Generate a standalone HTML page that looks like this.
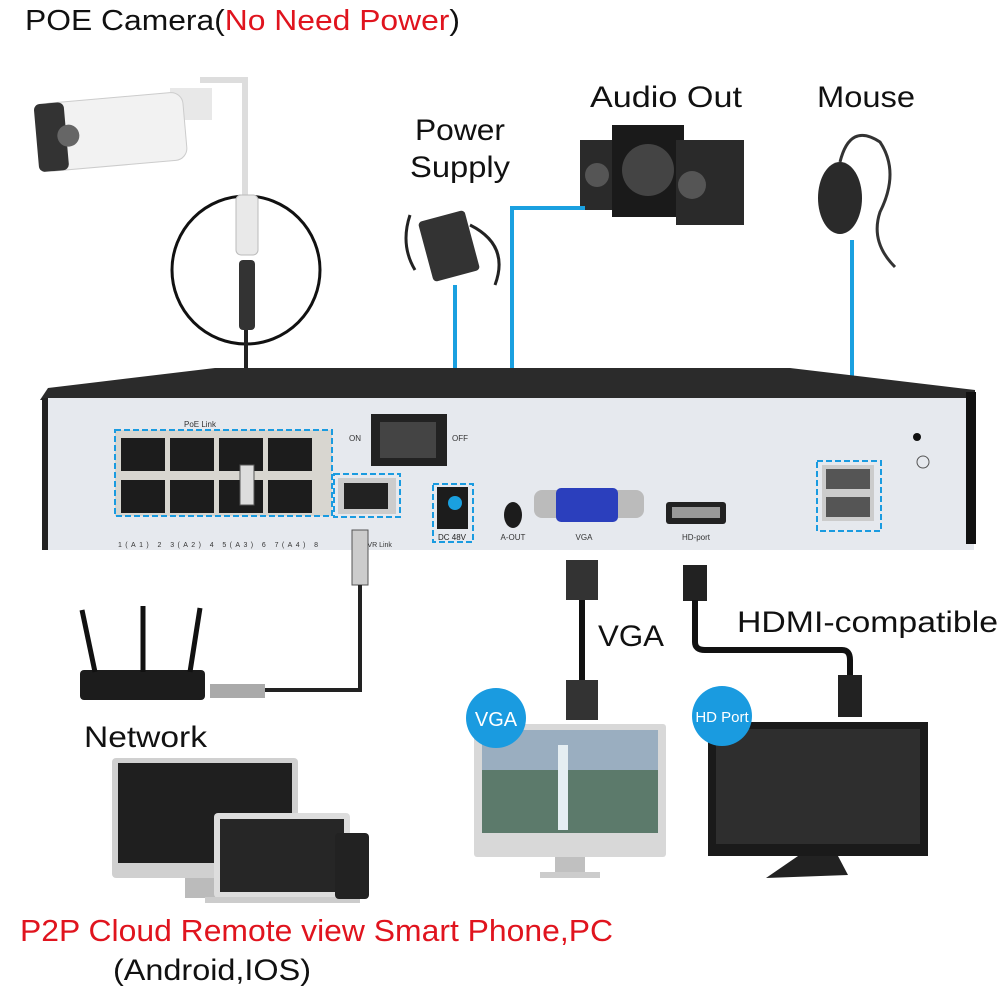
<!DOCTYPE html>
<html><head><meta charset="utf-8"><style>
body{margin:0;background:#fff;width:1000px;height:1000px;overflow:hidden}
svg{display:block}
text{font-family:"Liberation Sans",sans-serif}
</style></head><body>
<svg width="1000" height="1000" viewBox="0 0 1000 1000">
<!-- title -->
<text x="25" y="30" font-size="29" fill="#111" textLength="435" lengthAdjust="spacingAndGlyphs">POE Camera(<tspan fill="#e0141e">No Need Power</tspan>)</text>
<text x="415" y="140" font-size="30" fill="#111" textLength="90" lengthAdjust="spacingAndGlyphs">Power</text>
<text x="410" y="177" font-size="30" fill="#111" textLength="100" lengthAdjust="spacingAndGlyphs">Supply</text>
<text x="590" y="107" font-size="30" fill="#111" textLength="152" lengthAdjust="spacingAndGlyphs">Audio Out</text>
<text x="817" y="107" font-size="30" fill="#111" textLength="98" lengthAdjust="spacingAndGlyphs">Mouse</text>
<text x="598" y="646" font-size="30" fill="#111" textLength="66" lengthAdjust="spacingAndGlyphs">VGA</text>
<text x="737" y="632" font-size="30" fill="#111" textLength="261" lengthAdjust="spacingAndGlyphs">HDMI-compatible</text>
<text x="84" y="747" font-size="30" fill="#111" textLength="123" lengthAdjust="spacingAndGlyphs">Network</text>
<text x="20" y="941" font-size="31" fill="#e0141e" textLength="593" lengthAdjust="spacingAndGlyphs">P2P Cloud Remote view Smart Phone,PC</text>
<text x="113" y="980" font-size="30" fill="#111" textLength="198" lengthAdjust="spacingAndGlyphs">(Android,IOS)</text>

<!-- camera -->
<path d="M200 80 L245 80 L245 200" stroke="#ddd" stroke-width="6" fill="none"/>
<rect x="170" y="88" width="42" height="32" fill="#e8e8e8"/>
<g transform="rotate(-5 110 130)">
<rect x="40" y="98" width="145" height="68" rx="12" fill="#f2f2f2" stroke="#ccc"/>
<rect x="36" y="98" width="30" height="68" rx="6" fill="#333"/>
<circle cx="68" cy="132" r="11" fill="#666"/>
</g>
<circle cx="246" cy="270" r="74" fill="none" stroke="#111" stroke-width="3"/>
<rect x="236" y="195" width="22" height="60" rx="5" fill="#e9e9e9" stroke="#bbb"/>
<rect x="239" y="260" width="16" height="70" rx="4" fill="#333"/>
<line x1="246" y1="330" x2="246" y2="470" stroke="#222" stroke-width="4"/>

<!-- power supply -->
<rect x="425" y="215" width="48" height="62" rx="4" fill="#333" transform="rotate(-15 449 246)"/>
<path d="M470 225 q40 20 25 60 M410 215 q-10 30 5 55" stroke="#222" stroke-width="3" fill="none"/>
<line x1="455" y1="285" x2="455" y2="490" stroke="#1aa0e0" stroke-width="4"/>
<!-- speakers -->
<rect x="580" y="140" width="42" height="70" fill="#2a2a2a"/>
<rect x="612" y="125" width="72" height="92" fill="#1a1a1a"/>
<circle cx="648" cy="170" r="26" fill="#444"/>
<rect x="676" y="140" width="68" height="85" fill="#2a2a2a"/>
<circle cx="692" cy="185" r="14" fill="#555"/>
<circle cx="597" cy="175" r="12" fill="#555"/>
<path d="M585 208 L512 208 L512 505" stroke="#1aa0e0" stroke-width="4" fill="none"/>
<!-- mouse -->
<ellipse cx="840" cy="198" rx="22" ry="36" fill="#2a2a2a"/>
<path d="M840 162 q10 -40 40 -20 q20 30 0 70 q-10 30 15 55" stroke="#333" stroke-width="3" fill="none"/>
<line x1="852" y1="240" x2="852" y2="470" stroke="#1aa0e0" stroke-width="4"/>

<!-- NVR -->
<path d="M40 400 L48 388 L215 368 L790 368 L975 390 L975 400 Z" fill="#2b2b2b"/>
<rect x="42" y="398" width="932" height="152" fill="#e6e9ee"/>
<rect x="966" y="392" width="10" height="152" fill="#111"/>
<rect x="42" y="398" width="6" height="152" fill="#222"/>
<text x="200" y="427" font-size="8" fill="#333" text-anchor="middle">PoE Link</text>
<rect x="115" y="430" width="217" height="86" fill="#d8d6d0" stroke="#1a9be0" stroke-width="2" stroke-dasharray="6,3"/>
<g fill="#1c1c1c">
<rect x="121" y="438" width="44" height="33"/><rect x="170" y="438" width="44" height="33"/><rect x="219" y="438" width="44" height="33"/><rect x="268" y="438" width="44" height="33"/>
<rect x="121" y="480" width="44" height="33"/><rect x="170" y="480" width="44" height="33"/><rect x="219" y="480" width="44" height="33"/><rect x="268" y="480" width="44" height="33"/>
</g>
<rect x="240" y="465" width="14" height="40" fill="#ddd" stroke="#555"/>
<text x="118" y="547" font-size="7" fill="#333" textLength="200" lengthAdjust="spacing">1(A1)    2   3(A2)    4   5(A3)    6   7(A4)    8</text>
<rect x="334" y="474" width="66" height="43" fill="none" stroke="#1a9be0" stroke-width="2" stroke-dasharray="6,3"/>
<rect x="338" y="478" width="58" height="36" fill="#ccc"/><rect x="344" y="483" width="44" height="26" fill="#222"/>
<text x="372" y="547" font-size="7" fill="#333" text-anchor="middle">UPL    VR Link</text>
<rect x="371" y="414" width="76" height="52" fill="#222"/><rect x="380" y="422" width="56" height="36" fill="#444"/>
<text x="349" y="441" font-size="8" fill="#333">ON</text><text x="452" y="441" font-size="8" fill="#333">OFF</text>
<rect x="433" y="484" width="40" height="58" fill="none" stroke="#1a9be0" stroke-width="2" stroke-dasharray="6,3"/>
<rect x="437" y="487" width="31" height="42" fill="#1c1c1c"/><circle cx="455" cy="503" r="7" fill="#1aa0e0"/>
<text x="452" y="540" font-size="8" fill="#222" text-anchor="middle">DC 48V</text>
<ellipse cx="513" cy="515" rx="9" ry="13" fill="#1c1c1c"/>
<text x="513" y="540" font-size="8" fill="#333" text-anchor="middle">A-OUT</text>
<rect x="534" y="490" width="110" height="28" rx="8" fill="#bbb"/>
<rect x="556" y="488" width="62" height="34" rx="5" fill="#2b3fbd"/>
<text x="584" y="540" font-size="8" fill="#333" text-anchor="middle">VGA</text>
<rect x="666" y="502" width="60" height="22" rx="3" fill="#222"/><rect x="672" y="507" width="48" height="11" fill="#999"/>
<text x="696" y="540" font-size="8" fill="#333" text-anchor="middle">HD-port</text>
<rect x="817" y="461" width="64" height="70" fill="none" stroke="#1a9be0" stroke-width="2" stroke-dasharray="6,3"/>
<rect x="822" y="465" width="52" height="56" fill="#ccc"/>
<rect x="826" y="469" width="44" height="20" fill="#555"/><rect x="826" y="497" width="44" height="20" fill="#555"/>
<circle cx="917" cy="437" r="4" fill="#111"/><circle cx="923" cy="462" r="6" fill="none" stroke="#555"/>

<rect x="352" y="530" width="16" height="55" fill="#ccc" stroke="#555"/>
<path d="M360 585 L360 690 L260 690" stroke="#222" stroke-width="4" fill="none"/>
<rect x="210" y="684" width="55" height="14" fill="#aaa"/>
<rect x="80" y="670" width="125" height="30" rx="4" fill="#1c1c1c"/>
<line x1="82" y1="610" x2="95" y2="672" stroke="#111" stroke-width="5"/>
<line x1="143" y1="606" x2="143" y2="672" stroke="#111" stroke-width="5"/>
<line x1="200" y1="608" x2="190" y2="672" stroke="#111" stroke-width="5"/>
<rect x="566" y="560" width="32" height="40" fill="#333"/>
<line x1="582" y1="600" x2="582" y2="680" stroke="#111" stroke-width="6"/>
<rect x="566" y="680" width="32" height="40" fill="#333"/>
<rect x="683" y="565" width="24" height="36" fill="#222"/>
<path d="M695 600 L695 642 Q695 650 705 650 L842 650 Q850 650 850 660 L850 680" stroke="#111" stroke-width="6" fill="none"/>
<rect x="838" y="675" width="24" height="42" fill="#222"/>
<rect x="474" y="724" width="192" height="133" rx="3" fill="#d8d8d8"/>
<rect x="482" y="730" width="176" height="103" fill="#5c7a6b"/>
<rect x="482" y="730" width="176" height="40" fill="#9aaec0"/>
<rect x="558" y="745" width="10" height="85" fill="#e5eef2"/>
<rect x="555" y="857" width="30" height="18" fill="#c0c0c0"/>
<rect x="540" y="872" width="60" height="6" fill="#ccc"/>
<circle cx="496" cy="718" r="30" fill="#1a9be0"/>
<text x="496" y="726" font-size="20" fill="#fff" text-anchor="middle">VGA</text>
<rect x="708" y="722" width="220" height="134" fill="#1a1a1a"/>
<rect x="716" y="729" width="204" height="115" fill="#2e2e2e"/>
<path d="M798 856 L838 856 L848 875 L766 878 Z" fill="#222"/>
<circle cx="722" cy="716" r="30" fill="#1a9be0"/>
<text x="722" y="722" font-size="15" fill="#fff" text-anchor="middle">HD Port</text>
<rect x="112" y="758" width="186" height="120" rx="4" fill="#d0d0d0"/>
<rect x="118" y="763" width="174" height="100" fill="#1f1f1f"/>
<rect x="185" y="878" width="40" height="20" fill="#bbb"/>
<rect x="214" y="813" width="136" height="85" rx="4" fill="#ddd"/>
<rect x="220" y="819" width="124" height="73" fill="#262626"/>
<rect x="205" y="897" width="155" height="6" fill="#ccc"/>
<rect x="335" y="833" width="34" height="66" rx="4" fill="#222"/>
</svg>
</body></html>
